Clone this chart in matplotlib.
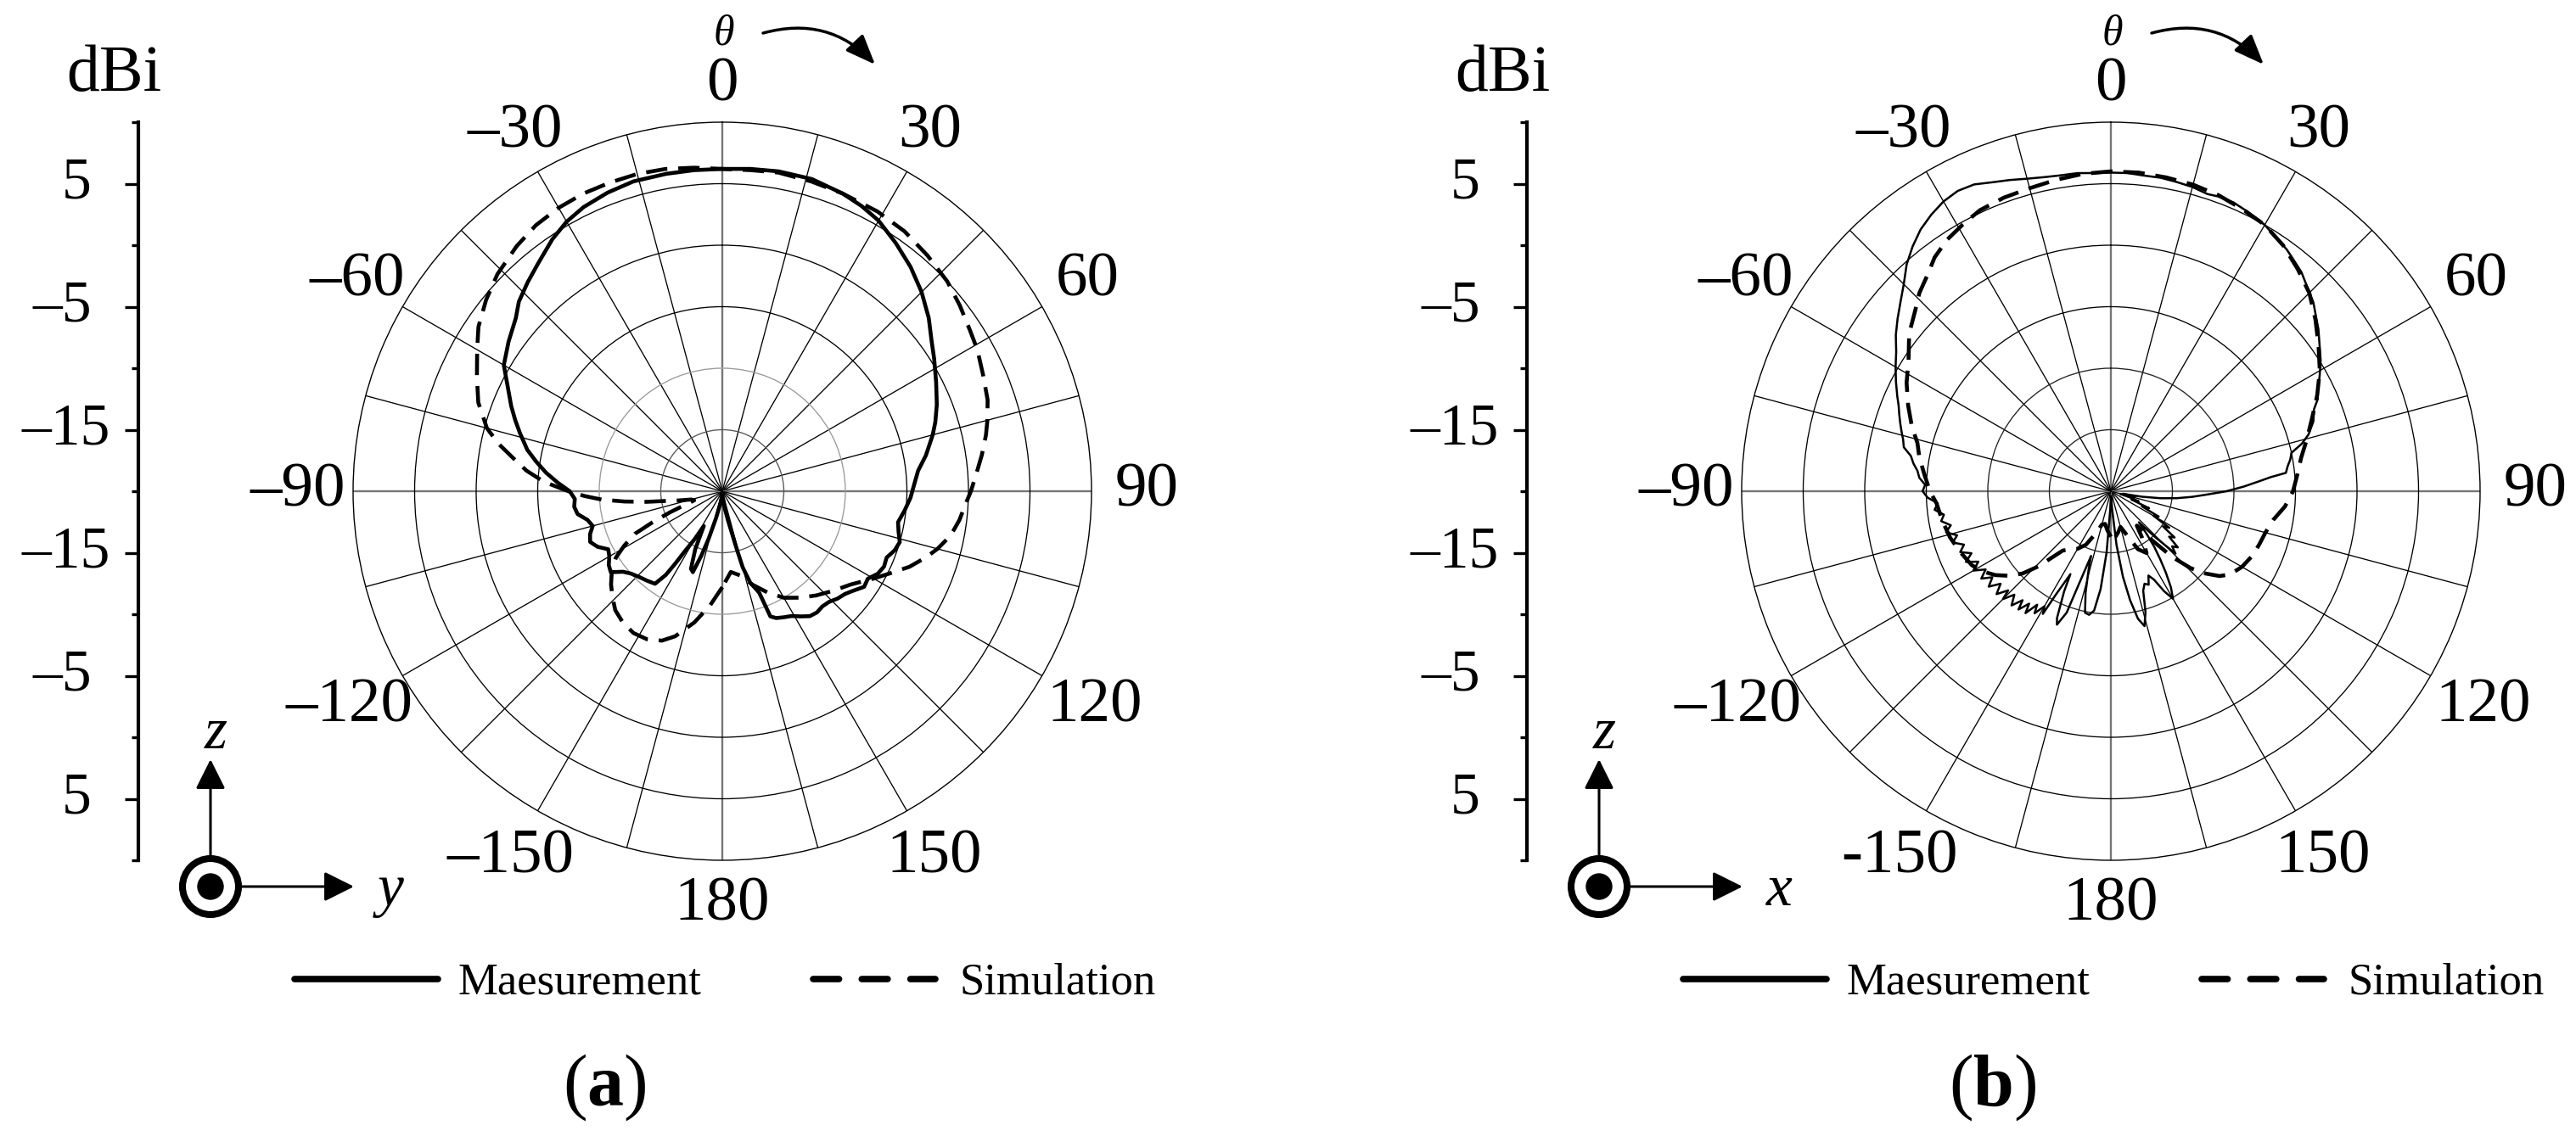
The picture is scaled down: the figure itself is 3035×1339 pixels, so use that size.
import numpy as np
import matplotlib
matplotlib.use("Agg")
import matplotlib.pyplot as plt
from matplotlib.lines import Line2D
from matplotlib.legend import Legend
from matplotlib.patches import Circle, FancyArrowPatch
from matplotlib.transforms import offset_copy

plt.rcParams['font.family'] = ['Liberation Serif', 'DejaVu Serif']
plt.rcParams['mathtext.fontset'] = 'custom'
plt.rcParams['mathtext.rm'] = 'Liberation Serif'
plt.rcParams['mathtext.it'] = 'Liberation Serif:italic'
plt.rcParams['mathtext.bf'] = 'Liberation Serif:bold'

# ---------------- data ----------------
theta_tick_deg = [0, 30, 60, 90, 120, 150, 180, -150, -120, -90, -60, -30]
theta_labels_a = ['0', '30', '60', '90', '120', '150', '180', '\u2013150', '\u2013120', '\u201390', '\u201360', '\u201330']
theta_labels_b = ['0', '30', '60', '90', '120', '150', '180', '-150', '\u2013120', '\u201390', '\u201360', '\u201330']
ring_levels = [-15, -10, -5, 0, 5]
r_min, r_max = -20, 10
scale_label_values = [5, -5, -15]
scale_label_text = ['5', '\u20135', '\u201315']
legend_labels = ['Maesurement', 'Simulation']

# panel (a) measurement
a_meas_theta = [-180, -176, -171, -167, -164, -162, -160, -158, -155, -152, -150, -148, -147, -146, -144,
                -140, -136, -132, -129, -126, -123, -120, -117, -114, -111, -108, -105, -102, -99, -96,
                -93, -90, -87, -84, -81, -78, -74, -71, -68, -64, -60, -55, -50, -47, -43, -39, -34, -30,
                -26, -21, -16, -10, -5, 0, 5, 10, 16, 22, 26, 30, 35, 40, 45, 50, 54, 58, 63, 68, 72, 75,
                80, 84, 88, 92, 96, 100, 103, 106, 109, 112, 115, 118, 121, 124, 127, 130, 133, 136, 139,
                142, 145, 148, 151, 154, 157, 159, 160, 161, 163, 165, 166, 169, 172, 176, 180]
a_meas_db = [-19.8, -19.6, -19.0, -17.8, -16.0, -14.5, -13.0, -13.2, -14.8, -16.8, -15.5, -14.2, -13.0, -11.8, -10.7,
             -10.5, -10.3, -10.0, -9.6, -8.8, -9.0, -9.4, -9.6, -8.9, -8.5, -8.7, -9.1, -8.8, -8.1, -7.9,
             -8.0, -7.6, -6.6, -5.6, -4.7, -3.8, -2.9, -2.2, -1.5, -0.6, 0.5, 1.2, 1.9, 2.6, 3.2, 3.8, 4.7, 5.3,
             5.7, 6.0, 6.2, 6.2, 6.2, 6.2, 6.3, 6.4, 6.4, 6.1, 5.8, 5.4, 4.6, 3.8, 2.9, 1.9, 1.0, 0.3, -0.5, -1.2, -1.8, -2.3,
             -3.2, -4.0, -4.4, -4.7, -5.1, -5.5, -5.3, -5.0, -5.2, -5.6, -5.5, -5.7, -6.2, -6.1, -6.6, -7.0, -7.2, -7.5, -7.6,
             -7.5, -7.6, -8.0, -8.4, -8.6, -8.8, -9.1, -11.2, -11.6, -12.2, -13.6, -15.2, -17.6, -18.6, -19.5, -19.8]

# panel (a) simulation
a_sim_theta = [-180, -174, -168, -162, -158, -153, -148, -143, -138, -134, -130, -126, -122, -119, -116,
               -114, -112, -110, -108, -105, -102, -100, -98, -96, -94, -92, -90, -87, -84, -81, -78, -75,
               -70, -65, -60, -56, -51, -46, -40, -35, -30, -25, -20, -15, -10, -5, 0, 5, 10, 16, 22, 29,
               35, 41, 47, 52, 57, 61, 66, 71, 75, 78, 82, 86, 90, 93, 97, 101, 105, 108, 112, 116, 120,
               126, 132, 138, 144, 150, 156, 162, 168, 174, 180]
a_sim_db = [-12.2, -10.7, -9.1, -7.6, -6.9, -6.5, -6.4, -6.6, -7.0, -7.6, -8.2, -8.9, -9.8, -10.9, -12.1,
            -13.8, -15.4, -16.8, -17.6, -17.4, -16.4, -15.5, -13.8, -12.0, -10.2, -8.8, -7.5, -5.5, -4.0, -2.8, -1.4, -0.2,
            1.1, 2.0, 3.0, 3.9, 4.7, 5.4, 6.0, 6.4, 6.6, 6.7, 6.7, 6.7, 6.6, 6.4, 6.2, 6.2, 6.3, 6.2, 6.1, 6.0,
            5.8, 5.4, 5.0, 4.5, 4.0, 3.7, 3.2, 2.8, 2.3, 1.9, 1.3, 0.7, 0.2, -0.2, -0.6, -1.1, -1.9, -2.6, -3.6, -4.8, -5.8,
            -7.1, -7.9, -8.6, -9.3, -10.0, -11.0, -12.0, -13.0, -13.4, -12.2]

# panel (b) measurement
b_meas_theta = [-180, -178, -176, -174, -172, -170, -168, -166, -164, -163, -161, -160, -158, -157, -155, -154,
                -152, -151, -150, -148, -147, -145, -144, -142, -141, -139, -137, -135, -134, -132, -130, -128,
                -126, -124, -122, -120, -118, -116, -114, -112, -110, -108, -106, -104, -102, -100, -98, -96,
                -94, -92, -90, -88, -86, -84, -82, -80, -78, -76, -74, -72, -70, -68, -66, -63, -60, -57, -54,
                -51, -48, -45, -42, -39, -36, -33, -30, -27, -24, -21, -18, -15, -12, -9, -6, -3, 0, 3, 6, 9,
                12, 15, 18, 20, 23, 26, 30, 33, 36, 38, 41, 44, 47, 50, 52, 55, 58, 61, 64, 66, 68, 71, 74, 76,
                78, 80, 82, 84, 85, 86, 88, 90, 92, 94, 96, 98, 100, 102, 104, 106, 108, 110, 112, 114, 116,
                118, 120, 122, 124, 126, 128, 130, 132, 134, 136, 138, 140, 142, 144, 146, 148, 150, 152, 154,
                156, 158, 160, 162, 164, 166, 168, 170, 172, 174, 176, 178, 180]
b_meas_db = [-19.5, -18.5, -15.0, -12.0, -10.2, -9.8, -9.9, -11.5, -13.5, -14.5, -12.0, -9.5, -8.3, -8.8, -11.0, -12.5,
             -10.5, -8.6, -9.2, -8.3, -9.0, -7.9, -8.7, -7.8, -8.6, -7.7, -8.5, -7.6, -8.4, -7.5, -8.3, -7.4,
             -8.1, -7.3, -8.0, -7.1, -7.8, -6.9, -7.6, -6.8, -7.3, -6.5, -7.0, -6.2, -6.7, -6.0, -6.3, -5.6,
             -5.9, -5.1, -4.7, -4.9, -4.4, -4.2, -3.8, -3.5, -2.8, -2.6, -2.3, -2.0, -1.7, -1.4, -1.0, -0.4, 0.2, 0.8, 1.6,
             2.3, 3.0, 3.8, 4.8, 5.6, 6.3, 6.8, 7.2, 7.4, 7.3, 6.9, 6.6, 6.3, 6.1, 6.0, 6.0, 5.9, 5.9, 5.9, 5.8, 5.8,
             5.7, 5.6, 5.4, 5.5, 5.5, 5.3, 5.0, 4.6, 4.3, 4.0, 3.6, 3.0, 2.5, 1.8, 1.4, 0.7, 0.1, -0.6, -1.3, -1.6, -2.2, -2.6, -3.3, -4.0,
             -5.0, -5.2, -5.5, -5.7, -7.0, -7.8, -9.2, -10.6, -12.2, -13.4, -14.6, -15.9, -17.4, -19.0, -18.0, -19.2, -18.4, -17.6, -18.2, -16.6, -17.2,
             -15.6, -16.0, -14.4, -14.9, -13.6, -14.0, -12.9, -13.3, -12.7, -14.8, -16.6, -15.5, -14.3, -13.2, -12.0, -10.8, -9.9, -10.8, -12.0,
             -12.5, -11.8, -12.0, -11.5, -9.8, -8.7, -9.4, -11.0, -13.0, -15.6, -18.5, -19.6, -19.5]

# panel (b) simulation
b_sim_theta = [-180, -175, -170, -165, -160, -155, -150, -145, -141, -138, -136, -133, -130, -126, -122, -118,
               -112, -106, -100, -94, -90, -85, -80, -76, -72, -67, -62, -57, -52, -47, -44, -40, -37, -33,
               -29, -25, -20, -15, -10, -5, 0, 5, 10, 15, 20, 25, 30, 35, 40, 45, 50, 55, 60, 65, 70, 75, 80,
               85, 90, 95, 100, 105, 110, 115, 120, 125, 128, 131, 134, 137, 140, 143, 146, 150, 155, 160, 165,
               170, 175, 180]
b_sim_db = [-16.3, -16.8, -17.3, -17.2, -16.3, -15.2, -14.6, -14.2, -13.8, -12.6, -11.5, -10.2, -9.3, -8.4, -7.7, -7.2,
            -6.8, -6.4, -6.1, -5.8, -5.3, -4.8, -4.2, -3.8, -3.0, -2.1, -1.2, -0.4, 0.8, 1.7, 2.4, 3.1, 3.8, 4.4,
            4.8, 5.2, 5.4, 5.5, 5.7, 5.9, 6.0, 6.0, 5.9, 5.8, 5.6, 5.3, 5.0, 4.4, 3.6, 2.8, 1.7, 0.6, -0.4, -1.5, -2.6, -3.5, -4.3,
            -4.8, -5.2, -5.8, -6.6, -7.0, -7.2, -7.4, -7.7, -8.2, -8.8, -9.8, -11.0, -12.7, -14.8, -16.5, -15.5, -14.2, -14.8, -16.2, -17.0,
            -16.6, -16.2, -16.3]

for t, d in [(a_meas_theta, a_meas_db), (a_sim_theta, a_sim_db), (b_meas_theta, b_meas_db), (b_sim_theta, b_sim_db)]:
    assert len(t) == len(d), (len(t), len(d))

# ---------------- layout (pixels) ----------------
W, H, DPI = 3035, 1339, 100
fig = plt.figure(figsize=(W / DPI, H / DPI), dpi=DPI)
fig.patch.set_facecolor('white')

deco = fig.add_axes([0, 0, 1, 1])
deco.set_xlim(0, W)
deco.set_ylim(H, 0)
deco.axis('off')

CX, CY, RP = 851, 579, 435
PANEL_DX = 1636
SCALE_LABEL_XOFF = {'5': -55, '\u20135': -55, '\u201315': -33}


def add_panel(i, meas_t, meas_db, sim_t, sim_db, tlabels, meas_lw, inner_ring_colors, axis_letter, caption_letter):
    ox = i * PANEL_DX
    cx = CX + ox
    ax = fig.add_axes([(cx - RP) / W, (H - CY - RP) / H, 2 * RP / W, 2 * RP / H], projection='polar')
    ax.set_theta_zero_location('N')
    ax.set_theta_direction(-1)
    ax.set_rlim(r_min, r_max)
    ax.set_xticks(np.deg2rad(np.arange(0, 360, 15)))
    ax.set_xticklabels([])
    ax.set_yticks(ring_levels)
    ax.set_yticklabels([])
    ax.tick_params(axis='both', length=0)
    ax.set_axisbelow(True)
    ax.grid(True, color='black', linewidth=0.95)
    for k, g in enumerate(ax.xaxis.get_gridlines()):
        if k % 6 == 0:
            g.set_color('#767676')
            g.set_linewidth(1.7)
    for k, g in enumerate(ax.yaxis.get_gridlines()):
        if k < len(inner_ring_colors):
            g.set_color(inner_ring_colors[k])
    ax.spines['polar'].set_linewidth(1.0)
    ax.spines['polar'].set_color('black')

    ax.plot(np.deg2rad(meas_t), meas_db, color='black', lw=meas_lw, solid_joinstyle='round', zorder=4)
    ax.plot(np.deg2rad(sim_t), sim_db, color='black', lw=3.3, linestyle=(0, (5.5, 2.8)), zorder=3)

    # angle labels
    for t, lab in zip(theta_tick_deg, tlabels):
        tr = np.deg2rad(t)
        s, c = np.sin(tr), np.cos(tr)
        rl = 478 + 22 * abs(s) + (10 if c < -0.1 else 0)
        trans = offset_copy(ax.transData, fig=fig, x=rl * s, y=rl * c, units='dots')
        ax.text(tr, r_min, lab, transform=trans, ha='center', va='center', fontsize=54, clip_on=False)

    # dBi scale axis
    sa = fig.add_axes([(163 + ox) / W, (H - CY - RP) / H, 1e-4, 2 * RP / H])
    sa.patch.set_visible(False)
    sa.set_ylim(-(r_max - r_min), r_max - r_min)
    for sp in ['top', 'right', 'bottom']:
        sa.spines[sp].set_visible(False)
    sa.spines['left'].set_linewidth(3.0)
    pos = [v - r_min for v in scale_label_values] + [-(v - r_min) for v in scale_label_values[::-1]]
    labs = scale_label_text + scale_label_text[::-1]
    sa.set_yticks(pos)
    sa.set_yticklabels([])
    sa.set_yticks(np.arange(-(r_max - r_min), r_max - r_min + 1, 10), minor=True)
    sa.set_xticks([])
    sa.tick_params(axis='y', which='major', length=11.5, width=2.4, direction='out')
    sa.tick_params(axis='y', which='minor', length=5.8, width=2.4, direction='out')
    for p, lab in zip(pos, labs):
        trans = offset_copy(sa.get_yaxis_transform(), fig=fig, x=SCALE_LABEL_XOFF[lab], y=0, units='dots')
        sa.text(0, p, lab, transform=trans, ha='right', va='center', fontsize=50, clip_on=False)

    deco.text(78 + ox, 107, 'dBi', fontsize=56, ha='left', va='baseline')

    # theta arrow
    deco.text(853 + ox, 40, '\u03b8', fontsize=36, style='italic', ha='center', va='center')
    arr = FancyArrowPatch((899 + ox, 39), (1031 + ox, 76), connectionstyle='arc3,rad=-0.3',
                          arrowstyle='-|>,head_length=0.9,head_width=0.36', mutation_scale=24,
                          lw=2.5, color='black', shrinkA=0, shrinkB=0)
    deco.add_patch(arr)

    # coordinate icon
    deco.add_patch(Circle((248 + ox, 1045), 33, fill=False, lw=5.8, color='black'))
    deco.add_patch(Circle((248 + ox, 1045), 15, color='black'))
    for p0, p1 in [((248 + ox, 1008), (248 + ox, 895)), ((285 + ox, 1045), (417 + ox, 1045))]:
        deco.add_patch(FancyArrowPatch(p0, p1, arrowstyle='-|>,head_length=0.9,head_width=0.45',
                                       mutation_scale=24, lw=2.2, color='black', shrinkA=0, shrinkB=0))
    deco.text(254 + ox, 882, 'z', fontsize=50, style='italic', ha='center', va='baseline')
    deco.text(460 + ox, 1067, axis_letter, fontsize=50, style='italic', ha='center', va='baseline')

    # legends
    h_meas = Line2D([], [], color='black', lw=5.5, solid_capstyle='round')
    h_sim = Line2D([], [], color='black', lw=5.5, linestyle=(0, (4.0, 3.5)), dash_capstyle='round')
    for h, lab, x0, hl, pad in [(h_meas, legend_labels[0], 347, 3.2, 0.45),
                                 (h_sim, legend_labels[1], 958, 2.73, 0.53)]:
        lg = Legend(deco, [h], [lab], loc='center left', bbox_to_anchor=(x0 + ox, 1159),
                    bbox_transform=deco.transData, frameon=False, fontsize=38,
                    handlelength=hl, handletextpad=pad, borderpad=0, borderaxespad=0)
        deco.add_artist(lg)

    # caption
    deco.text(712 + ox, 1303, '(' + r'$\mathbf{' + caption_letter + '}$' + ')', fontsize=62,
              ha='center', va='baseline')
    return ax


add_panel(0, a_meas_theta, a_meas_db, a_sim_theta, a_sim_db, theta_labels_a, 3.3, ['#555555', '#9a9a9a'], 'y', 'a')
add_panel(1, b_meas_theta, b_meas_db, b_sim_theta, b_sim_db, theta_labels_b, 1.8, ['#222222', '#222222'], 'x', 'b')

fig.savefig('out.png', dpi=DPI, facecolor='white')
